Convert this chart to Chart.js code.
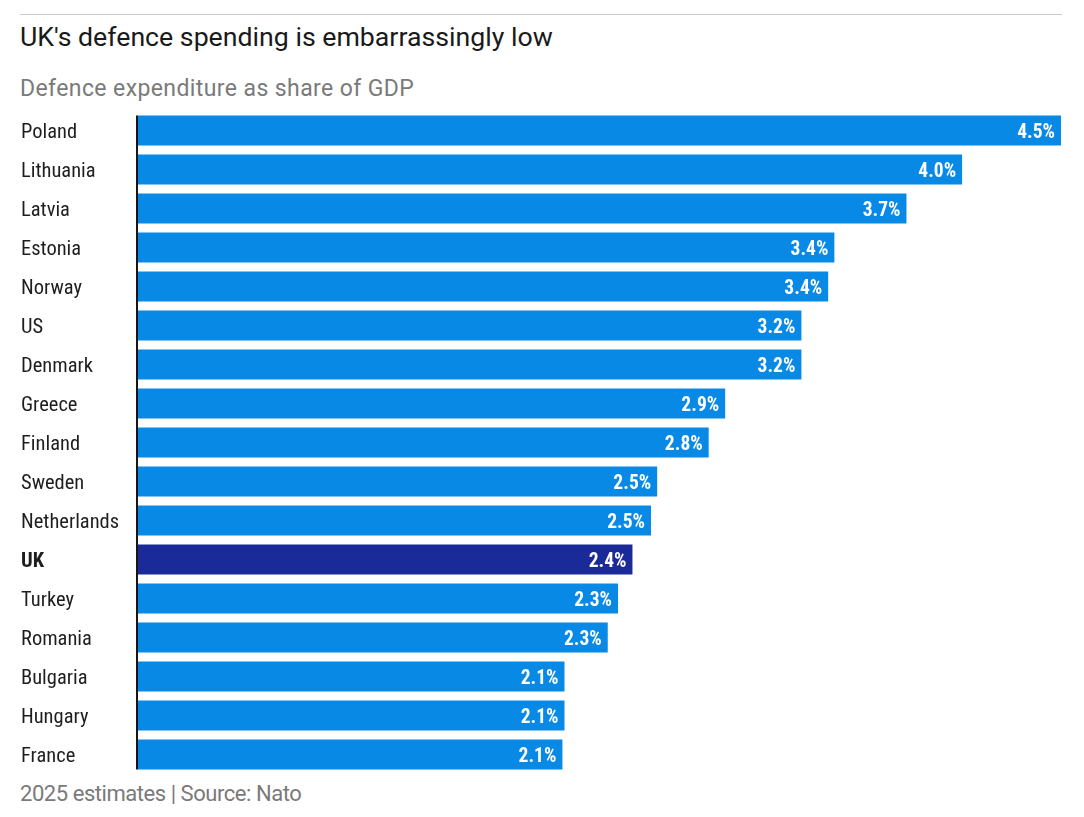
<!DOCTYPE html>
<html>
<head>
<meta charset="utf-8">
<script src="https://cdn.jsdelivr.net/npm/chart.js@4"></script>
<style>
  body { margin: 0; background: #fff; width: 1084px; height: 817px; overflow: hidden; position: relative; }
  .rule { position: absolute; left: 20px; top: 14px; width: 1042px; height: 1px; background: #c8c8c8; }
  h1, p { position: absolute; left: 20px; margin: 0; line-height: 1; white-space: nowrap; font-family: "Roboto", sans-serif; font-weight: 400; }
  h1 { top: 23.5px; font-size: 26.7px; color: #1a1a1a; }
  .sub { top: 77px; font-size: 23px; color: #7a7a7a; letter-spacing: 0.4px; }
  .foot { top: 783px; font-size: 22px; color: #7a7a7a; letter-spacing: -0.45px; }
  #wrap { position: absolute; left: 0; top: 111px; width: 1084px; height: 663px; }
</style>
</head>
<body>
<div class="rule"></div>
<h1>UK's defence spending is embarrassingly low</h1>
<p class="sub">Defence expenditure as share of GDP</p>
<div id="wrap"><canvas id="chart"></canvas></div>
<p class="foot">2025 estimates | Source: Nato</p>

<script>
const countries = ['Poland', 'Lithuania', 'Latvia', 'Estonia', 'Norway', 'US', 'Denmark', 'Greece',
  'Finland', 'Sweden', 'Netherlands', 'UK', 'Turkey', 'Romania', 'Bulgaria', 'Hungary', 'France'];
const shareOfGdp = [4.48, 4.0, 3.73, 3.38, 3.35, 3.22, 3.22, 2.85,
  2.77, 2.52, 2.49, 2.4, 2.33, 2.28, 2.07, 2.07, 2.06];
const highlight = 'UK';

const condensed = '"Roboto Condensed", "Liberation Sans Narrow", sans-serif';
const blue = '#0889e6';
const navy = '#1b2a99';

// axis line only as tall as the bars, and white value labels inside the bar ends
const barDecor = {
  id: 'barDecor',
  afterDatasetsDraw(chart) {
    const ctx = chart.ctx;
    const bars = chart.getDatasetMeta(0).data;
    const first = bars[0], last = bars[bars.length - 1];
    ctx.save();
    ctx.fillStyle = '#161616';
    const top = first.y - first.height / 2;
    const bottom = last.y + last.height / 2;
    ctx.fillRect(chart.chartArea.left - 2, top, 2, bottom - top);

    ctx.fillStyle = '#fff';
    ctx.font = 'bold 19.5px ' + condensed;
    ctx.textAlign = 'right';
    ctx.textBaseline = 'alphabetic';
    bars.forEach((bar, i) => {
      ctx.fillText(shareOfGdp[i].toFixed(1) + '%', bar.x - 6, bar.y + 7);
    });
    ctx.restore();
  }
};

new Chart(document.getElementById('chart'), {
  type: 'bar',
  data: {
    labels: countries,
    datasets: [{
      data: shareOfGdp,
      backgroundColor: countries.map(c => c === highlight ? navy : blue),
      barPercentage: 0.77,
      categoryPercentage: 1
    }]
  },
  options: {
    indexAxis: 'y',
    responsive: true,
    maintainAspectRatio: false,
    animation: false,
    layout: { padding: { left: 21, right: 23, top: 0, bottom: 0 } },
    plugins: { legend: { display: false }, tooltip: { enabled: false } },
    scales: {
      x: { display: false, min: 0, max: shareOfGdp[0] },
      y: {
        grid: { display: false, drawTicks: false },
        border: { display: false },
        afterFit(scale) {
          scale.width = 117;
          scale.paddingTop = 0;
          scale.paddingBottom = 0;
        },
        ticks: {
          crossAlign: 'far',
          padding: 0,
          labelOffset: 2,
          color: '#1e1e1e',
          font: ctx => ({
            family: condensed,
            size: 20.5,
            weight: countries[ctx.index] === highlight ? 'bold' : 'normal'
          })
        }
      }
    }
  },
  plugins: [barDecor]
});
</script>
</body>
</html>
